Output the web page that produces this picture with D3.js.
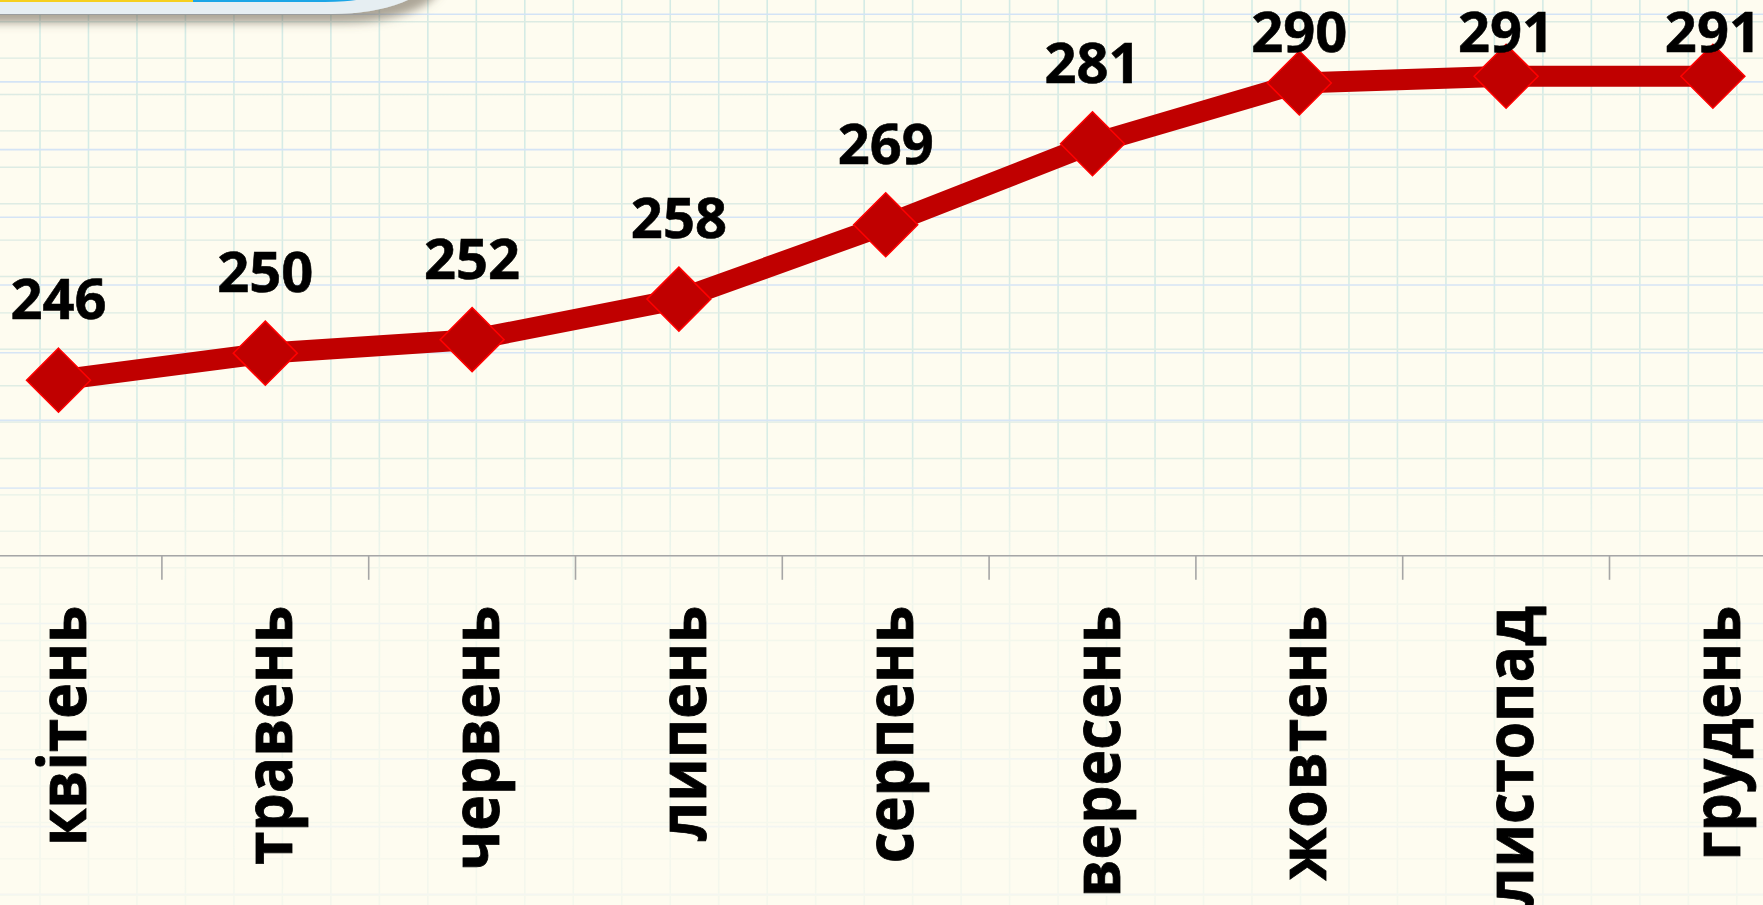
<!DOCTYPE html>
<html>
<head>
<meta charset="utf-8">
<script src="https://cdn.jsdelivr.net/npm/d3@7"></script>
<style>
  html, body { margin: 0; padding: 0; background: #fefcf0; overflow: hidden; }
  svg { display: block; }
</style>
</head>
<body>
<svg id="chart" width="1763" height="905"></svg>
<script>
// ---- data ----
const categories = ["квітень", "травень", "червень", "липень", "серпень", "вересень", "жовтень", "листопад", "грудень"];
const values = [246, 250, 252, 258, 269, 281, 290, 291, 291];
const yDomain = [220, 300];

// ---- setup ----
const W = 1763, H = 905;
const svg = d3.select("#chart");
const defs = svg.append("defs");

// background
svg.append("rect").attr("width", W).attr("height", H).attr("fill", "#fefcf0");

// fading mask for grid paper
const grad = defs.append("linearGradient").attr("id", "fade").attr("x1", 0).attr("y1", 0).attr("x2", 0).attr("y2", 1);
[[0, 1], [0.5, 0.9], [0.62, 0.35], [1, 0.22]].forEach(([o, a]) =>
  grad.append("stop").attr("offset", o).attr("stop-color", "#fff").attr("stop-opacity", a));
defs.append("mask").attr("id", "gridMask")
  .append("rect").attr("width", W).attr("height", H).attr("fill", "url(#fade)");

const grid = svg.append("g").attr("mask", "url(#gridMask)");
const vStep = 48.48, vOff = 40 - vStep;
const gStep = 36.4, gOff = 21.7 - gStep;
const bStep = 67.7, bOff = 285 - 5 * bStep;
grid.selectAll("line.v").data(d3.range(0, 38)).join("line")
  .attr("x1", i => vOff + i * vStep).attr("x2", i => vOff + i * vStep)
  .attr("y1", 0).attr("y2", H)
  .attr("stroke", "#d4ebe5").attr("stroke-width", 1.6);
grid.selectAll("line.g").data(d3.range(0, 27)).join("line")
  .attr("y1", i => gOff + i * gStep).attr("y2", i => gOff + i * gStep)
  .attr("x1", 0).attr("x2", W)
  .attr("stroke", "#dcebe3").attr("stroke-width", 1.4);
grid.selectAll("line.b").data(d3.range(0, 15)).join("line")
  .attr("y1", i => bOff + i * bStep).attr("y2", i => bOff + i * bStep)
  .attr("x1", 0).attr("x2", W)
  .attr("stroke", "#d3e3f6").attr("stroke-width", 1.6);

// ---- top-left banner (bottom edge visible) ----
const sh = defs.append("filter").attr("id", "shadow").attr("x", "-20%").attr("y", "-20%").attr("width", "150%").attr("height", "200%");
sh.append("feDropShadow").attr("dx", 9).attr("dy", 9).attr("stdDeviation", 5)
  .attr("flood-color", "#6a6050").attr("flood-opacity", 0.55);
svg.append("rect").attr("x", -160).attr("y", -120).attr("width", 592).attr("height", 134)
  .attr("rx", 100).attr("ry", 40).attr("fill", "#e6eef2").attr("filter", "url(#shadow)");
defs.append("clipPath").attr("id", "barClip")
  .append("rect").attr("x", -160).attr("y", -120).attr("width", 585).attr("height", 122)
  .attr("rx", 100).attr("ry", 40);
const bar = svg.append("g").attr("clip-path", "url(#barClip)");
bar.append("rect").attr("x", -160).attr("y", -120).attr("width", 353).attr("height", 130).attr("fill", "#f6cf1e");
bar.append("rect").attr("x", 193).attr("y", -120).attr("width", 260).attr("height", 130).attr("fill", "#1ba5e6");

// ---- scales ----
const x = d3.scaleBand().domain(categories).range([-44.9, 1816.3]).padding(0);
const bw = x.bandwidth();
const cx = c => x(c) + bw / 2;
const y = d3.scaleLinear().domain(yDomain).range([555.8, 15.4]);

// ---- axis ----
const axisY = y(yDomain[0]);
const axis = svg.append("g").attr("transform", `translate(0,${axisY})`);
axis.append("line").attr("x1", x.range()[0]).attr("x2", x.range()[1])
  .attr("y1", 0).attr("y2", 0).attr("stroke", "#a6a6a6").attr("stroke-width", 1.6);
axis.selectAll("line.tick").data(categories.slice(1)).join("line")
  .attr("x1", c => x(c)).attr("x2", c => x(c))
  .attr("y1", 0).attr("y2", 24).attr("stroke", "#a6a6a6").attr("stroke-width", 1.6);
axis.selectAll("text").data(categories).join("text")
  .attr("transform", c => `translate(${cx(c) + 27},${50}) rotate(-90) scale(0.96,1.04)`)
  .attr("text-anchor", "end")
  .attr("font-family", "'Open Sans', 'Noto Sans', sans-serif")
  .attr("font-weight", 700)
  .attr("font-size", 63)
  .attr("fill", "#000")
  .attr("stroke", "#000").attr("stroke-width", 0.8)
  .text(c => c);

// ---- line ----
const pts = categories.map((c, i) => [cx(c), y(values[i])]);
svg.append("path").datum(pts)
  .attr("d", d3.line())
  .attr("fill", "none").attr("stroke", "#c00000").attr("stroke-width", 21)
  .attr("stroke-linejoin", "round");

// ---- markers ----
const r = 32;
svg.selectAll("path.m").data(pts).join("path")
  .attr("d", ([px, py]) => `M${px},${py - r}L${px + r},${py}L${px},${py + r}L${px - r},${py}Z`)
  .attr("fill", "#c00000").attr("stroke", "#ff0000").attr("stroke-width", 1.5);

// ---- data labels (kept inside the top edge, like the original) ----
svg.selectAll("text.lbl").data(categories).join("text")
  .attr("x", c => cx(c))
  .attr("y", (c, i) => Math.max(y(values[i]) - 61, 52))
  .attr("text-anchor", "middle")
  .attr("font-family", "'Open Sans', 'Noto Sans', sans-serif")
  .attr("font-weight", 700)
  .attr("font-size", 56)
  .attr("fill", "#000")
  .attr("stroke", "#000").attr("stroke-width", 0.6)
  .text((c, i) => values[i]);
</script>
</body>
</html>
